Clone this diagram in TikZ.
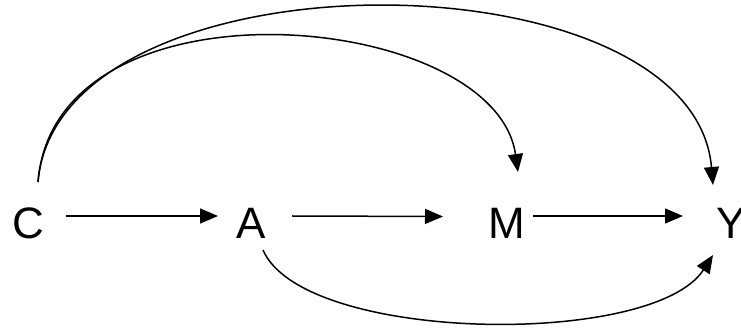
\documentclass[tikz,border=0pt]{standalone}
\usepackage{fontspec}
\setmainfont{Liberation Sans}
\usetikzlibrary{arrows.meta}
\begin{document}
\begin{tikzpicture}[x=1pt,y=-1pt,
  lab/.style={inner sep=0pt,font=\fontsize{44}{50}\selectfont},
  arr/.style={line width=1.5pt,-{Triangle[length=18pt,width=15pt]}}]
\useasboundingbox (0,0) rectangle (741,328);
\node[lab] (C) at (28,223.5) {C};
\node[lab] (A) at (251,223) {A};
\node[lab] (M) at (507,223) {M};
\node[lab] (Y) at (731,223) {Y};
% straight arrows
\draw[arr] ([shift={(38,-7.5)}]C.center) -- ([shift={(-33,-7)}]A.center);
\draw[arr] ([shift={(41,-7)}]A.center) -- ([shift={(-64,-6.5)}]M.center);
\draw[arr] ([shift={(26,-7)}]M.center) -- ([shift={(-48,-7)}]Y.center);
% curved arrows
\draw[arr] ([shift={(10,-41.5)}]C.center) .. controls +(17,-212) and +(-23,-162) .. ([shift={(11,-51)}]M.center);
\draw[arr] ([shift={(10,-41.5)}]C.center) .. controls +(20,-235) and +(-20,-235) .. ([shift={(-18,-38)}]Y.center);
\draw[arr] ([shift={(12,27)}]A.center) .. controls +(40,93) and +(-60,93) .. ([shift={(-18,32)}]Y.center);
\end{tikzpicture}
\end{document}
